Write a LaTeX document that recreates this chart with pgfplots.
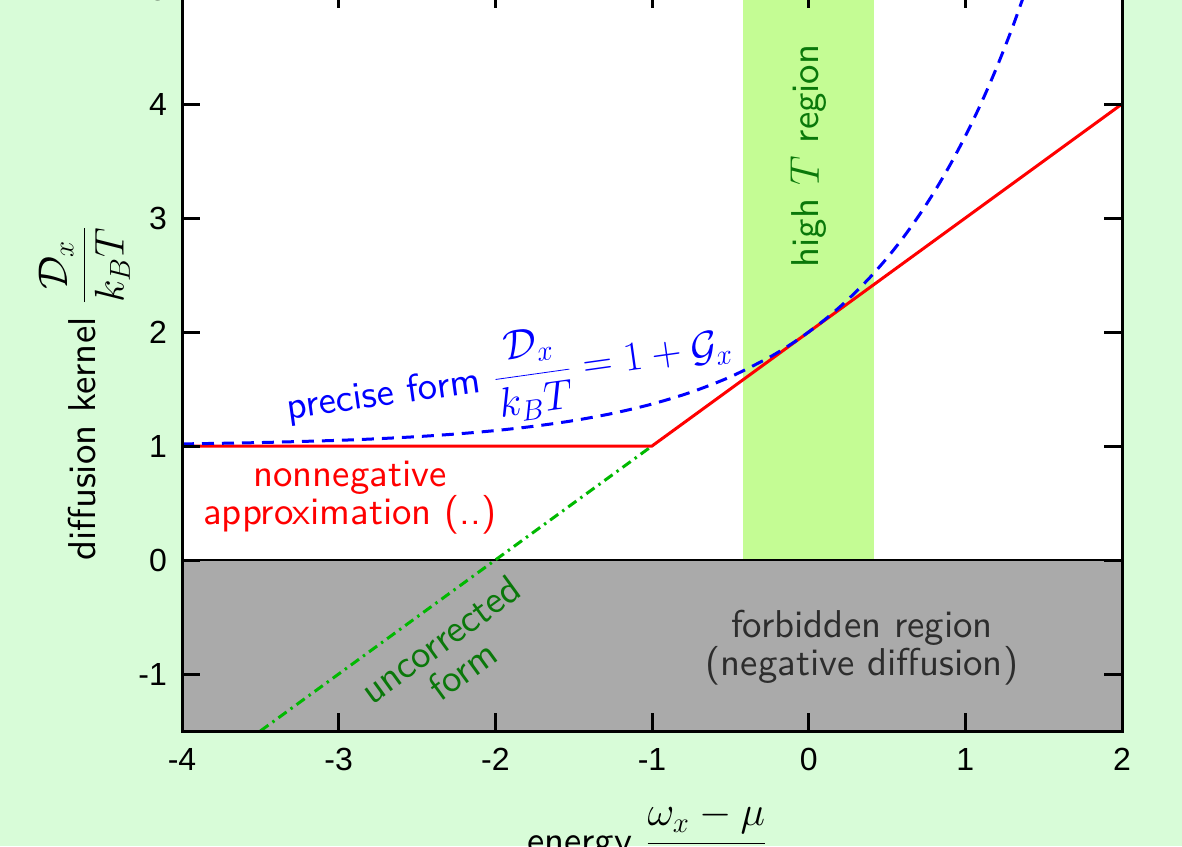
\documentclass[border=0pt]{standalone}
\usepackage{fontspec}
\usepackage{pgfplots}
\pgfplotsset{compat=1.18}
\newfontfamily\tickfont{Liberation Sans}
\newfontfamily\lmss{lmsans10-regular.otf}
\definecolor{bg}{RGB}{216,252,216}
\definecolor{band}{RGB}{196,252,148}
\definecolor{forb}{RGB}{170,170,170}
\definecolor{dgreen}{RGB}{10,120,10}
\definecolor{lgreen}{RGB}{0,185,0}
\definecolor{ftext}{RGB}{45,45,45}
\newcommand\lbl{\lmss\fontsize{19.4}{19}\selectfont}
\begin{document}
\begin{tikzpicture}
\path[use as bounding box, fill=bg] (-91pt,-57.5pt) rectangle (500pt,365.5pt);
\clip (-91pt,-57.5pt) rectangle (500pt,365.5pt);
\begin{axis}[
  at={(0,0)}, anchor=south west,
  scale only axis, width=470pt, height=370.5pt,
  xmin=-4, xmax=2, ymin=-1.5, ymax=5,
  xtick={-4,-3,-2,-1,0,1,2}, ytick={-1,0,1,2,3,4,5},
  tick align=inside, major tick length=9pt,
  axis background/.style={fill=white},
  axis line style={line width=1.5pt},
  tick style={line width=1.5pt, black},
  axis on top,
  /pgf/number format/assume math mode=true,
  ticklabel style={font=\tickfont\fontsize{16}{16}\selectfont},
  xticklabel style={yshift=-5pt},
  yticklabel style={xshift=-4pt},
  xlabel={\lbl energy $\displaystyle\frac{\omega_x-\mu}{k_BT}$},
  xlabel style={at={(rel axis cs:0.495,-0.154)}, anchor=center},
  ylabel={\lbl diffusion kernel $\displaystyle\frac{\mathcal{D}_x}{k_BT}$},
  ylabel style={at={(rel axis cs:-0.104,0.456)}, anchor=center, rotate=0},
]
\addplot[fill=forb, draw=none] coordinates {(-4,-1.5) (2,-1.5) (2,0) (-4,0)};
\addplot[fill=band, draw=none] coordinates {(-0.42,0) (0.42,0) (0.42,5) (-0.42,5)};
\addplot[black, line width=1pt] coordinates {(-4,0) (2,0)};
\addplot[lgreen, line width=1.5pt, dash pattern=on 5pt off 2.5pt on 1.2pt off 2.5pt] coordinates {(-3.5,-1.5) (-1,1)};
\addplot[red, line width=1.5pt] coordinates {(-4,1) (-1,1) (2,4)};
\addplot[blue, line width=1.5pt, dash pattern=on 6pt off 4pt, smooth] coordinates {
(-4,1.0183) (-3.5,1.0302) (-3,1.0498) (-2.75,1.0639) (-2.5,1.0821) (-2.25,1.1054)
(-2,1.1353) (-1.75,1.1738) (-1.5,1.2231) (-1.25,1.2865) (-1,1.3679) (-0.75,1.4724)
(-0.5,1.6065) (-0.25,1.7788) (-0.1,1.9048) (0,2) (0.1,2.1052) (0.2,2.2214) (0.3,2.3499)
(0.4,2.4918) (0.5,2.6487) (0.6,2.8221) (0.7,3.0138) (0.8,3.2255) (0.9,3.4596)
(1.0,3.7183) (1.1,4.0042) (1.2,4.3201) (1.3,4.6693) (1.386,5.0)};
\node[rotate=90, text=dgreen, font=\lbl] at (axis cs:0,3.544) {high $T$ region};
\node[rotate=8, text=blue, font=\lbl] at (axis cs:-1.91,1.605) {precise form $\displaystyle\frac{\mathcal{D}_x}{k_BT}=1+\mathcal{G}_x$};
\node[text=red, font=\lbl, align=center] at (axis cs:-2.928,0.544) {nonnegative\\approximation (..)};
\node[rotate=36, text=dgreen, font=\lbl, align=center] at (axis cs:-2.28,-0.833) {uncorrected\\form};
\node[text=ftext, font=\lbl, align=center] at (axis cs:0.340,-0.768) {forbidden region\\(negative diffusion)};
\end{axis}
\end{tikzpicture}
\end{document}
